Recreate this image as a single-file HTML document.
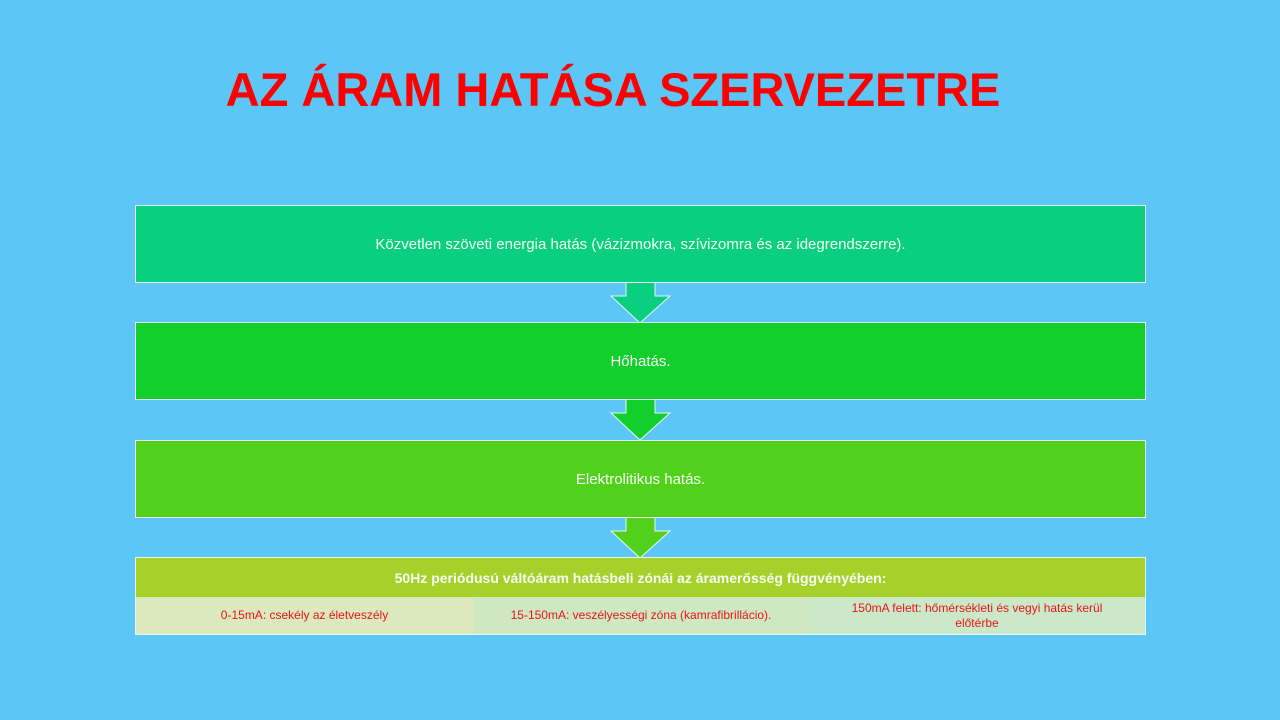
<!DOCTYPE html><html><head><meta charset="utf-8"><style>
body{margin:0;width:1280px;height:720px;background:#5cc6f6;position:relative;overflow:hidden;font-family:"Liberation Sans",sans-serif}
.t{position:absolute;left:200px;width:826px;top:62px;text-align:center;color:#fe0000;font-weight:bold;font-size:47px;letter-spacing:0px;white-space:nowrap}
.b{position:absolute;left:135px;width:1009px;border:1px solid #e6f6f0;color:#f4fff4;font-size:15px;display:flex;align-items:center;justify-content:center}
.c{position:absolute;top:597px;height:37px;color:#e8141a;font-size:12px;display:flex;align-items:center;justify-content:center;text-align:center;line-height:15px}
</style></head><body>
<div class="t">AZ ÁRAM HATÁSA SZERVEZETRE</div>
<svg width="1280" height="720" style="position:absolute;left:0;top:0">
<polygon points="626,282 655,282 655,296 670,296 640,323 611,296 626,296" fill="#0acf7f" stroke="#e6f6f0"/>
<polygon points="626,399 655,399 655,413 670,413 640,440 611,413 626,413" fill="#13cf2c" stroke="#e6f6f0"/>
<polygon points="626,517 655,517 655,531 670,531 640,558 611,531 626,531" fill="#52d11c" stroke="#e6f6f0"/>
</svg>
<div class="b" style="top:205px;height:76px;background:#0acf7f">Közvetlen szöveti energia hatás (vázizmokra, szívizomra és az idegrendszerre).</div>
<div class="b" style="top:322px;height:76px;background:#13cf2c">Hőhatás.</div>
<div class="b" style="top:440px;height:76px;background:#52d11c">Elektrolitikus hatás.</div>
<div class="b" style="top:557px;height:76px;background:#a5d12a;align-items:flex-start;font-weight:bold;font-size:14px"><div style="margin-top:12px">50Hz periódusú váltóáram hatásbeli zónái az áramerősség függvényében:</div></div>
<div class="c" style="left:136px;width:337px;background:#dce9bf">0-15mA: csekély az életveszély</div>
<div class="c" style="left:473px;width:336px;background:#cfe8c2">15-150mA: veszélyességi zóna (kamrafibrillácio).</div>
<div class="c" style="left:809px;width:336px;background:#cbe8c8">150mA felett: hőmérsékleti és vegyi hatás kerül<br>előtérbe</div>
</body></html>
